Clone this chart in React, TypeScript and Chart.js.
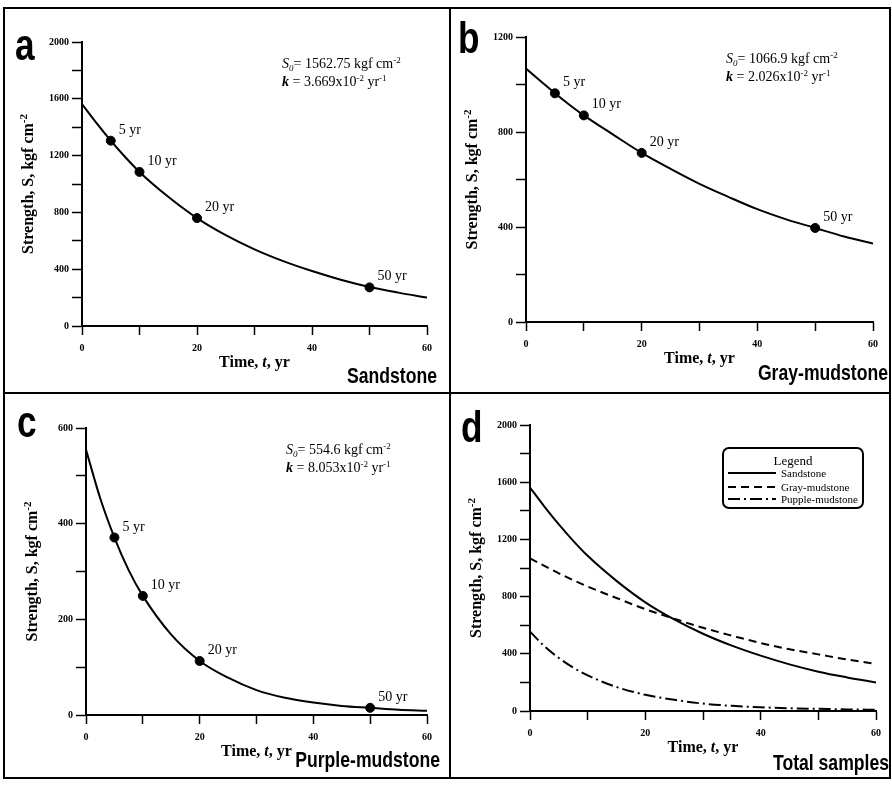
import React, { useEffect, useRef } from "react";
import { Chart, registerables } from "chart.js";

Chart.register(...registerables);

// ---------- data ----------
const YEARS = [0, 2.5, 5, 7.5, 10, 15, 20, 25, 30, 35, 40, 45, 50, 55, 60];
const SANDSTONE = [1563, 1430, 1305, 1190, 1085, 910, 760, 640, 540, 457, 387, 326, 275, 235, 200];
const GRAY_MUDSTONE = [1067, 1015, 963, 915, 870, 790, 712, 645, 582, 527, 475, 432, 396, 360, 330];
const PURPLE_MUDSTONE = [555, 453, 371, 303, 249, 168, 113, 78, 52, 36, 26, 19, 15, 11, 9];

const MARK_YEARS = [5, 10, 20, 50];
const MARK_LABELS = ["5 yr", "10 yr", "20 yr", "50 yr"];
const SANDSTONE_MARKS = [1305, 1085, 760, 272];
const GRAY_MARKS = [963, 870, 712, 396];
const PURPLE_MARKS = [371, 249, 113, 15];

const X_TICK_LABELS = [0, 20, 40, 60];
const LEGEND_LABELS = ["Sandstone", "Gray-mudstone", "Pupple-mudstone"];

const SERIF = '"Liberation Serif", "Times New Roman", serif';
const SANS = '"Liberation Sans", Arial, sans-serif';

type Run = { t: string; f?: string; size?: number; dy?: number };

function runFont(r: Run, base: number) {
  const size = r.size ?? base;
  return `${r.f ?? ""} ${size}px ${SERIF}`.trim();
}
function measureRuns(ctx: CanvasRenderingContext2D, runs: Run[], base: number) {
  let w = 0;
  for (const r of runs) {
    ctx.font = runFont(r, base);
    w += ctx.measureText(r.t).width;
  }
  return w;
}
function drawRuns(ctx: CanvasRenderingContext2D, x: number, y: number, runs: Run[], base: number) {
  ctx.textAlign = "left";
  ctx.textBaseline = "alphabetic";
  let cx = x;
  for (const r of runs) {
    ctx.font = runFont(r, base);
    ctx.fillText(r.t, cx, y + (r.dy ?? 0));
    cx += ctx.measureText(r.t).width;
  }
}

const sup = (t: string, f = ""): Run => ({ t, f, size: 9, dy: -5 });

function annotRuns(s0: string, k: string): Run[][] {
  return [
    [{ t: "S", f: "italic" }, { t: "0", f: "italic", size: 9, dy: 3 }, { t: "= " + s0 + " kgf cm" }, sup("-2")],
    [{ t: "k", f: "italic bold" }, { t: " = " + k + "x10" }, sup("-2"), { t: " yr" }, sup("-1")],
  ];
}

interface PanelCfg {
  left: number; top: number; width: number; height: number;
  padL: number; padT: number; padR: number; padB: number;
  yMax: number; yStep: number; yLabelStep: number;
  series: { label: string; values: number[]; dash: number[] }[];
  marks?: number[];
  annot?: Run[][];
  letter: string; letterPos: [number, number];
  name: string; namePos: [number, number];
  legend?: boolean;
}

const PANELS: PanelCfg[] = [
  {
    left: 5, top: 9, width: 444, height: 383, padL: 77, padT: 33, padR: 22, padB: 66,
    yMax: 2000, yStep: 200, yLabelStep: 400,
    series: [{ label: LEGEND_LABELS[0], values: SANDSTONE, dash: [] }],
    marks: SANDSTONE_MARKS, annot: annotRuns("1562.75", "3.669"),
    letter: "a", letterPos: [10, 51], name: "Sandstone", namePos: [432, 374],
  },
  {
    left: 451, top: 9, width: 438, height: 383, padL: 75, padT: 28, padR: 16, padB: 70,
    yMax: 1200, yStep: 200, yLabelStep: 400,
    series: [{ label: LEGEND_LABELS[1], values: GRAY_MUDSTONE, dash: [] }],
    marks: GRAY_MARKS, annot: annotRuns("1066.9", "2.026"),
    letter: "b", letterPos: [7, 44], name: "Gray-mudstone", namePos: [437, 371],
  },
  {
    left: 5, top: 394, width: 444, height: 383, padL: 81, padT: 34, padR: 22, padB: 62,
    yMax: 600, yStep: 100, yLabelStep: 200,
    series: [{ label: LEGEND_LABELS[2], values: PURPLE_MUDSTONE, dash: [] }],
    marks: PURPLE_MARKS, annot: annotRuns("554.6", "8.053"),
    letter: "c", letterPos: [12, 43], name: "Purple-mudstone", namePos: [435, 373],
  },
  {
    left: 451, top: 394, width: 438, height: 383, padL: 79, padT: 31, padR: 13, padB: 66,
    yMax: 2000, yStep: 200, yLabelStep: 400,
    series: [
      { label: LEGEND_LABELS[0], values: SANDSTONE, dash: [] },
      { label: LEGEND_LABELS[1], values: GRAY_MUDSTONE, dash: [8, 5] },
      { label: LEGEND_LABELS[2], values: PURPLE_MUDSTONE, dash: [12, 4, 2, 4] },
    ],
    letter: "d", letterPos: [10, 48], name: "Total samples", namePos: [438, 376], legend: true,
  },
];

function makeDecor(cfg: PanelCfg) {
  return {
    id: "decor",
    afterDatasetsDraw(chart: any) {
      const ctx: CanvasRenderingContext2D = chart.ctx;
      if (!cfg.marks) return;
      const meta = chart.getDatasetMeta(cfg.series.length);
      ctx.save();
      ctx.fillStyle = "#000";
      meta.data.forEach((pt: any, i: number) => {
        drawRuns(ctx, pt.x + 8, pt.y - 7, [{ t: MARK_LABELS[i] }], 14);
      });
      ctx.restore();
    },
    afterDraw(chart: any) {
      const ctx: CanvasRenderingContext2D = chart.ctx;
      const ca = chart.chartArea;
      ctx.save();
      ctx.fillStyle = "#000";
      ctx.strokeStyle = "#000";

      // y title
      const yRuns: Run[] = [{ t: "Strength, S, kgf cm", f: "bold" }, { t: "-2", f: "bold", size: 11, dy: -6 }];
      const yw = measureRuns(ctx, yRuns, 16);
      ctx.save();
      ctx.translate(ca.left - 49, (ca.top + ca.bottom) / 2);
      ctx.rotate(-Math.PI / 2);
      drawRuns(ctx, -yw / 2, 0, yRuns, 16);
      ctx.restore();

      // x title
      const xRuns: Run[] = [{ t: "Time, ", f: "bold" }, { t: "t", f: "italic bold" }, { t: ", yr", f: "bold" }];
      const xw = measureRuns(ctx, xRuns, 16);
      drawRuns(ctx, (ca.left + ca.right) / 2 - xw / 2, ca.bottom + 41, xRuns, 16);

      // annotation
      if (cfg.annot) {
        drawRuns(ctx, ca.left + 200, ca.top + 26, cfg.annot[0], 14);
        drawRuns(ctx, ca.left + 200, ca.top + 44, cfg.annot[1], 14);
      }

      // panel letter
      ctx.save();
      ctx.translate(cfg.letterPos[0], cfg.letterPos[1]);
      ctx.scale(0.8, 1);
      ctx.font = `bold 44px ${SANS}`;
      ctx.textAlign = "left";
      ctx.textBaseline = "alphabetic";
      ctx.fillText(cfg.letter, 0, 0);
      ctx.restore();

      // panel name
      ctx.save();
      ctx.translate(cfg.namePos[0], cfg.namePos[1]);
      ctx.scale(0.8, 1);
      ctx.font = `bold 22px ${SANS}`;
      ctx.textAlign = "right";
      ctx.textBaseline = "alphabetic";
      ctx.fillText(cfg.name, 0, 0);
      ctx.restore();

      // legend box
      if (cfg.legend) {
        const bx = ca.left + 193, by = ca.top + 23, bw = 140, bh = 60, r = 6;
        ctx.lineWidth = 2;
        ctx.beginPath();
        ctx.moveTo(bx + r, by);
        ctx.arcTo(bx + bw, by, bx + bw, by + bh, r);
        ctx.arcTo(bx + bw, by + bh, bx, by + bh, r);
        ctx.arcTo(bx, by + bh, bx, by, r);
        ctx.arcTo(bx, by, bx + bw, by, r);
        ctx.closePath();
        ctx.stroke();
        ctx.font = `13px ${SERIF}`;
        ctx.textAlign = "center";
        ctx.fillText("Legend", bx + 70, by + 17);
        const rows = [25, 39, 51];
        chart.data.datasets.slice(0, 3).forEach((ds: any, i: number) => {
          const yy = by + rows[i];
          ctx.save();
          ctx.lineWidth = 2;
          ctx.setLineDash(ds.borderDash || []);
          ctx.beginPath();
          ctx.moveTo(bx + 5, yy);
          ctx.lineTo(bx + 53, yy);
          ctx.stroke();
          ctx.restore();
          ctx.font = `11px ${SERIF}`;
          ctx.textAlign = "left";
          ctx.fillText(ds.label, bx + 58, yy + 4);
        });
      }
      ctx.restore();
    },
  };
}

function Panel({ cfg }: { cfg: PanelCfg }) {
  const ref = useRef<HTMLCanvasElement>(null);
  useEffect(() => {
    if (!ref.current) return;
    const datasets: any[] = cfg.series.map((s) => ({
      type: "line",
      label: s.label,
      data: YEARS.map((x, i) => ({ x, y: s.values[i] })),
      borderColor: "#000",
      borderWidth: 2,
      borderDash: s.dash,
      pointRadius: 0,
      cubicInterpolationMode: "monotone",
      fill: false,
    }));
    if (cfg.marks) {
      datasets.push({
        type: "scatter",
        label: "marks",
        data: MARK_YEARS.map((x, i) => ({ x, y: cfg.marks![i] })),
        pointRadius: 4.5,
        backgroundColor: "#000",
        borderColor: "#000",
        showLine: false,
      });
    }
    const tickFont = { family: SERIF, size: 10, weight: "bold" as const };
    const chart = new Chart(ref.current, {
      type: "line",
      data: { datasets },
      plugins: [makeDecor(cfg)],
      options: {
        animation: false,
        responsive: false,
        maintainAspectRatio: false,
        layout: { padding: { left: 0, top: cfg.padT, right: cfg.padR, bottom: 0 } },
        plugins: { legend: { display: false }, tooltip: { enabled: false } },
        scales: {
          x: {
            type: "linear",
            min: 0,
            max: 60,
            afterFit: (s: any) => { s.height = cfg.padB; },
            border: { display: true, color: "#000", width: 2 },
            grid: { display: true, drawOnChartArea: false, drawTicks: true, tickLength: 9, tickColor: "#000", tickWidth: 1.5 },
            ticks: {
              stepSize: 10,
              autoSkip: false,
              maxRotation: 0,
              color: "#000",
              font: tickFont,
              padding: 7,
              callback: (v: any) => (X_TICK_LABELS.includes(Number(v)) ? String(v) : ""),
            },
          },
          y: {
            type: "linear",
            min: 0,
            max: cfg.yMax,
            afterFit: (s: any) => { s.width = cfg.padL; },
            border: { display: true, color: "#000", width: 2 },
            grid: { display: true, drawOnChartArea: false, drawTicks: true, tickLength: 10, tickColor: "#000", tickWidth: 1.5 },
            ticks: {
              stepSize: cfg.yStep,
              autoSkip: false,
              color: "#000",
              font: tickFont,
              padding: 3,
              callback: (v: any) => (Number(v) % cfg.yLabelStep === 0 ? String(v) : ""),
            },
          },
        },
      } as any,
    });
    return () => chart.destroy();
  }, [cfg]);
  return (
    <canvas
      ref={ref}
      width={cfg.width}
      height={cfg.height}
      style={{ position: "absolute", left: cfg.left, top: cfg.top, width: cfg.width, height: cfg.height }}
    />
  );
}

export default function App() {
  return (
    <div style={{ position: "absolute", left: 0, top: 0, width: 892, height: 787, background: "#fff", overflow: "hidden" }}>
      <div style={{ position: "absolute", left: 3, top: 7, width: 888, height: 772, border: "2px solid #000", boxSizing: "border-box" }} />
      <div style={{ position: "absolute", left: 449, top: 7, width: 2, height: 772, background: "#000" }} />
      <div style={{ position: "absolute", left: 3, top: 392, width: 888, height: 2, background: "#000" }} />
      {PANELS.map((p, i) => (
        <Panel key={i} cfg={p} />
      ))}
    </div>
  );
}
